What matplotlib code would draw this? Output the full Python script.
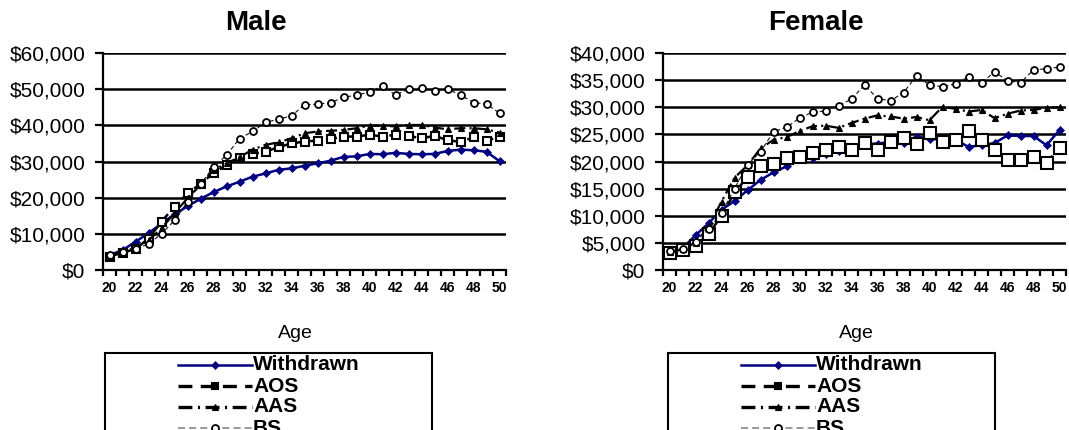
import matplotlib
matplotlib.use("Agg")
import matplotlib.pyplot as plt
from matplotlib.lines import Line2D
from matplotlib.patches import Rectangle
from matplotlib.ticker import FuncFormatter, FixedLocator
import numpy as np

plt.rcParams['font.family'] = ['Liberation Sans', 'DejaVu Sans']
plt.rcParams['lines.scale_dashes'] = False

ages = list(range(20, 51))
series_names = ["Withdrawn", "AOS", "AAS", "BS"]

male_withdrawn = [4.1, 5.5, 7.8, 10.2, 12.8, 15.4, 17.6, 19.7, 21.5, 23.1, 24.4, 25.8, 26.7, 27.7, 28.1,
                  28.8, 29.5, 30.2, 31.3, 31.4, 32.1, 32.0, 32.4, 32.1, 32.0, 32.1, 32.9, 33.3, 33.1, 32.7, 30.1]
male_aos = [3.7, 4.8, 5.8, 8.7, 13.4, 17.5, 21.2, 23.8, 26.8, 29.0, 31.1, 32.1, 32.7, 34.0, 35.0,
            35.5, 35.8, 36.2, 36.9, 36.9, 37.4, 36.9, 37.4, 37.1, 36.4, 37.1, 35.9, 35.4, 36.7, 35.7, 36.9]
male_aas = [3.9, 4.9, 6.2, 8.2, 11.5, 15.8, 19.8, 23.6, 27.6, 29.5, 31.2, 33.3, 34.6, 35.3, 36.4,
            37.8, 38.3, 38.5, 38.7, 39.2, 39.9, 39.9, 39.7, 40.1, 40.1, 39.4, 38.9, 39.2, 39.2, 38.9, 38.0]
male_bs = [4.2, 5.0, 5.8, 7.2, 10.0, 13.7, 18.9, 23.8, 28.4, 31.8, 36.3, 38.3, 40.8, 41.7, 42.6,
           45.7, 45.8, 46.3, 47.7, 48.4, 49.2, 50.9, 48.4, 50.0, 50.2, 49.6, 50.0, 48.4, 46.3, 45.9, 43.4]

female_withdrawn = [3.1, 4.0, 6.4, 8.6, 11.1, 12.7, 14.7, 16.6, 18.0, 19.1, 20.6, 20.6, 21.4, 22.0, 22.1,
                    23.2, 23.3, 23.6, 23.4, 24.6, 24.2, 24.0, 24.0, 22.7, 23.0, 23.4, 24.8, 24.7, 24.7, 23.0, 25.8]
female_aos = [3.2, 3.7, 4.4, 6.7, 9.9, 14.3, 17.1, 19.1, 19.5, 20.7, 20.9, 21.6, 22.2, 22.7, 22.1,
              23.4, 22.2, 23.6, 24.4, 23.2, 25.2, 23.6, 23.9, 25.7, 23.9, 22.1, 20.3, 20.3, 20.9, 19.8, 22.5]
female_aas = [3.3, 3.8, 5.0, 8.0, 12.6, 17.0, 19.3, 22.4, 24.0, 24.5, 25.6, 26.5, 26.6, 26.2, 27.1,
              27.9, 28.5, 28.3, 27.9, 28.2, 27.6, 30.1, 29.7, 29.2, 29.5, 28.0, 28.8, 29.4, 29.5, 29.9, 30.0]
female_bs = [3.5, 3.9, 5.2, 7.5, 10.5, 15.0, 19.4, 21.8, 25.5, 26.3, 28.0, 29.1, 29.3, 30.3, 31.5,
             34.1, 31.6, 31.2, 32.7, 35.8, 34.1, 33.8, 34.3, 35.6, 34.5, 36.5, 34.9, 34.5, 36.9, 37.1, 37.4]

W, H = 1069, 430
fig = plt.figure(figsize=(W / 100, H / 100), dpi=100)


def fx(x):
    return x / W


def fy(y):
    return 1 - y / H


NAVY = '#000080'
styles = {
    "Withdrawn": dict(color=NAVY, lw=1.8, ls='-', marker='D', ms=4, mfc=NAVY, mec=NAVY, mew=0.5),
    "AOS": dict(color='black', lw=1.8, ls=(0, (8, 3.5)), marker='s', ms=6, mfc='white', mec='black', mew=1.5),
    "AAS": dict(color='black', lw=1.6, ls=(0, (8, 3, 1.5, 3)), marker='^', ms=5, mfc='black', mec='black', mew=0.8),
    "BS": dict(color='#111111', lw=0.8, ls=(0, (3, 2)), marker='o', ms=5, mfc='white', mec='black', mew=1.3),
}


def money(v, pos):
    return "${:,.0f}".format(v)


def make_panel(left_px, title, title_x, age_x, ymax, ystep, data, sq_ms, legend_left):
    ax = fig.add_axes([fx(left_px), fy(270), 403 / W, 217 / H])
    x = np.arange(len(ages))
    for name, vals in zip(series_names, data):
        st = dict(styles[name])
        if name == "AOS":
            st['ms'] = sq_ms
        ax.plot(x, np.array(vals) * 1000, label=name, clip_on=False, **st)
    ax.set_xlim(-0.5, len(ages) - 0.5)
    ax.set_ylim(0, ymax)
    ax.set_yticks(np.arange(0, ymax + 1, ystep))
    ax.yaxis.set_major_formatter(FuncFormatter(money))
    ax.set_xticks(x[::2])
    ax.set_xticklabels([str(a) for a in ages[::2]], fontweight='bold', fontsize=10)
    ax.xaxis.set_minor_locator(FixedLocator(np.arange(-0.5, len(ages), 1.0)))
    ax.tick_params(axis='x', which='major', length=0, pad=8)
    ax.tick_params(axis='x', which='minor', length=4.5, width=1.6, direction='out')
    ax.tick_params(axis='y', which='major', length=5.5, width=1.6, direction='out', pad=7, labelsize=15)
    for s in ['top', 'right']:
        ax.spines[s].set_visible(False)
    ax.spines['left'].set_linewidth(1.6)
    ax.spines['bottom'].set_linewidth(1.6)
    ax.yaxis.grid(True, color='black', lw=1.8)
    ax.set_axisbelow(True)
    fig.text(fx(title_x), fy(23), title, fontsize=20, fontweight='bold', ha='center', va='center')
    fig.text(fx(age_x), fy(333), "Age", fontsize=14, ha='center', va='center')

    # legend box
    fig.add_artist(Rectangle((fx(legend_left), fy(445)), 327 / W, (445 - 353) / H,
                             transform=fig.transFigure, fill=False, ec='black', lw=1.5))
    rows = [365, 386, 407, 428]
    x0, x1 = legend_left + 73, legend_left + 147
    for name, ry in zip(series_names, rows):
        st = dict(styles[name])
        if name == "AOS":
            st['mfc'] = 'black'
            st['ms'] = 5
            st['lw'] = 2.4
            st['ls'] = (0, (10, 6))
        if name == "AAS":
            st['lw'] = 2.4
            st['ls'] = (0, (10, 4, 1.5, 4))
        if name == "BS":
            st['color'] = '#888888'
            st['lw'] = 1.2
            st['ls'] = (0, (5, 3))
        ln = Line2D([fx(x0), fx((x0 + x1) / 2), fx(x1)], [fy(ry)] * 3, transform=fig.transFigure,
                    markevery=[1], **st)
        fig.add_artist(ln)
        fig.text(fx(x1 + 1), fy(ry), name, fontsize=15, fontweight='bold', ha='left', va='center')
    return ax


make_panel(103, "Male", 256, 295, 60000, 10000,
           [male_withdrawn, male_aos, male_aas, male_bs], 6, 105)
make_panel(663, "Female", 816, 856, 40000, 5000,
           [female_withdrawn, female_aos, female_aas, female_bs], 8, 668)

fig.savefig("out.png", dpi=100)
